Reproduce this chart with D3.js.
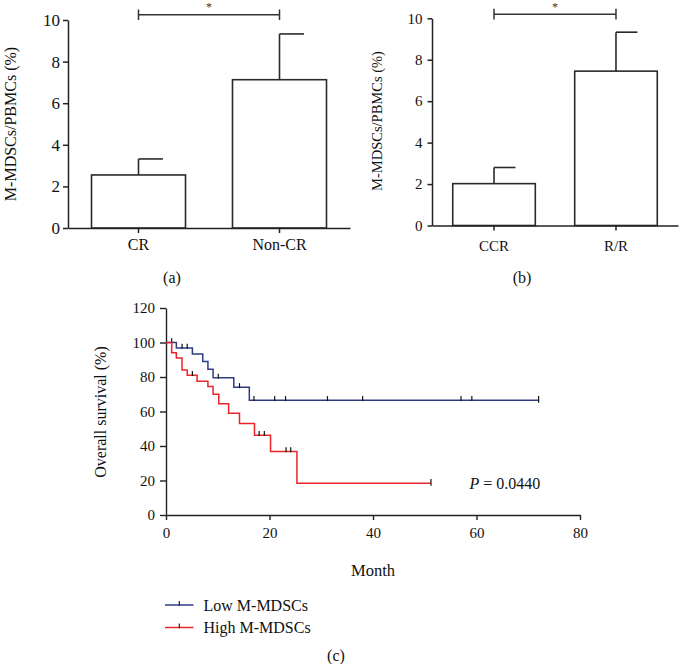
<!DOCTYPE html>
<html>
<head>
<meta charset="utf-8">
<script src="https://cdn.jsdelivr.net/npm/d3@7"></script>
<style>
  html, body { margin: 0; padding: 0; background: #fff; }
  svg { display: block; font-family: "Liberation Serif", "Times New Roman", serif; }
</style>
</head>
<body>
<svg id="chart" width="679" height="664"></svg>
<script>
// ---------- Data ----------
const catsA = ["CR", "Non-CR"];
const meanA = [2.55, 7.13];
const errA  = [0.77, 2.20];

const catsB = ["CCR", "R/R"];
const meanB = [2.02, 7.45];
const errB  = [0.78, 1.88];

const barTicks = [0, 2, 4, 6, 8, 10];

const lowTimes   = [0, 2.0, 5.1, 7.1, 8.1, 9.1, 13.1, 16.1];
const lowSurv    = [100, 96.8, 93.3, 89, 84.5, 79.5, 74, 66.5];
const lowCensor  = [1.1, 3.1, 4.1, 10.1, 14.2, 17.0, 21.0, 23.1, 31.2, 38.0, 57.0, 59.1];
const lowEnd     = 72;

const highTimes  = [0, 1.1, 2.0, 3.1, 4.1, 6.0, 8.1, 9.1, 10.2, 12.1, 14.2, 17.1, 20.2, 25.3];
const highSurv   = [100, 94, 91, 84, 81, 77.5, 74.5, 70, 64.5, 59, 53, 46.3, 36.8, 18.4];
const highCensor = [5.1, 18.0, 19.0, 23.2, 24.1];
const highEnd    = 51.2;

const kmXTicks = [0, 20, 40, 60, 80];
const kmYTicks = [0, 20, 40, 60, 80, 100, 120];
const legendLabels = ["Low M-MDSCs", "High M-MDSCs"];
const pText = "0.0440";

// ---------- Drawing ----------
const svg = d3.select("#chart");
const axisColor = "#222";

function styleAxis(g, fontSize, width) {
  g.selectAll("path.domain").attr("stroke", axisColor).attr("stroke-width", width);
  g.selectAll(".tick line").attr("stroke", axisColor).attr("stroke-width", width);
  g.selectAll(".tick text").attr("fill", "#111").attr("font-size", fontSize)
    .attr("font-family", "Liberation Serif, serif");
}

function barPanel(opt) {
  const x = d3.scaleBand().domain(opt.cats).range(opt.xRange)
    .paddingInner(opt.pi).paddingOuter(opt.po);
  const y = d3.scaleLinear().domain([0, 10]).range(opt.yRange);
  const g = svg.append("g");

  // bars
  g.selectAll("rect.bar").data(opt.cats).join("rect")
    .attr("x", d => x(d)).attr("width", x.bandwidth())
    .attr("y", (d, i) => y(opt.mean[i]))
    .attr("height", (d, i) => y(0) - y(opt.mean[i]))
    .attr("fill", "#fff").attr("stroke", "#2a2a2a").attr("stroke-width", 1.6);

  // error bars (upper only, right half cap)
  const cap = x.bandwidth() * 0.26;
  opt.cats.forEach((c, i) => {
    const cx = x(c) + x.bandwidth() / 2;
    const top = y(opt.mean[i] + opt.err[i]);
    g.append("line").attr("x1", cx).attr("x2", cx)
      .attr("y1", y(opt.mean[i])).attr("y2", top)
      .attr("stroke", "#2a2a2a").attr("stroke-width", 1.6);
    g.append("line").attr("x1", cx).attr("x2", cx + cap)
      .attr("y1", top).attr("y2", top)
      .attr("stroke", "#2a2a2a").attr("stroke-width", 1.6);
  });

  // axes
  const gy = g.append("g").attr("transform", `translate(${opt.xRange[0]},0)`)
    .call(d3.axisLeft(y).tickValues(barTicks).tickSize(opt.yTick).tickPadding(opt.yPad).tickSizeOuter(0));
  styleAxis(gy, opt.tickFont, 1.5);
  const gx = g.append("g").attr("transform", `translate(0,${y(0)})`)
    .call(d3.axisBottom(x).tickSize(5).tickPadding(opt.xPad).tickSizeOuter(0));
  styleAxis(gx, opt.catFont, 1.5);

  // significance bracket
  const x1 = x(opt.cats[0]) + x.bandwidth() / 2;
  const x2 = x(opt.cats[1]) + x.bandwidth() / 2;
  const by = y(opt.bracket);
  g.append("path")
    .attr("d", `M${x1},${by - 5.3}V${by + 5.3}M${x1},${by}H${x2}M${x2},${by - 5.3}V${by + 5.3}`)
    .attr("fill", "none").attr("stroke", "#333").attr("stroke-width", 1.5);
  g.append("text").attr("x", (x1 + x2) / 2).attr("y", by - 3.5)
    .attr("text-anchor", "middle").attr("font-size", 12).attr("fill", "#333").text("*");

  // y title
  g.append("text")
    .attr("transform", `translate(${opt.titleX},${opt.titleY}) rotate(-90)`)
    .attr("text-anchor", "middle").attr("dominant-baseline", "central")
    .attr("font-size", opt.titleFont).attr("fill", "#111")
    .text("M-MDSCs/PBMCs (%)");

  // panel label
  g.append("text").attr("x", opt.labelX).attr("y", 283)
    .attr("text-anchor", "middle").attr("font-size", 16).attr("fill", "#111")
    .text(opt.label);
}

barPanel({
  cats: catsA, mean: meanA, err: errA,
  xRange: [68, 350], pi: 1 / 3, po: 1 / 6, yRange: [228, 20],
  yTick: 5, yPad: 3, xPad: 6, tickFont: 17, catFont: 16,
  bracket: 10.25, titleX: 10, titleY: 124, titleFont: 16,
  label: "(a)", labelX: 172
});

barPanel({
  cats: catsB, mean: meanB, err: errB,
  xRange: [432, 678], pi: 0.323, po: 0.17, yRange: [225.5, 18.3],
  yTick: 4.5, yPad: 5, xPad: 9.5, tickFont: 15, catFont: 15,
  bracket: 10.2, titleX: 377, titleY: 121, titleFont: 14.5,
  label: "(b)", labelX: 522
});

// ---------- Kaplan-Meier panel ----------
const kx = d3.scaleLinear().domain([0, 80]).range([166, 580]);
const ky = d3.scaleLinear().domain([0, 120]).range([515, 308]);
const kg = svg.append("g");

const gky = kg.append("g").attr("transform", `translate(${kx(0)},0)`)
  .call(d3.axisLeft(ky).tickValues(kmYTicks).tickSize(6).tickPadding(5).tickSizeOuter(0));
styleAxis(gky, 15, 1.4);
const gkx = kg.append("g").attr("transform", `translate(0,${ky(0)})`)
  .call(d3.axisBottom(kx).tickValues(kmXTicks).tickSize(5).tickPadding(7.3).tickSizeOuter(0));
styleAxis(gkx, 15, 1.4);

function survAt(times, surv, t) {
  let s = surv[0];
  for (let i = 0; i < times.length; i++) if (times[i] <= t) s = surv[i];
  return s;
}

function drawKM(times, surv, censor, end, color) {
  const pts = times.map((t, i) => [t, surv[i]]);
  pts.push([end, surv[surv.length - 1]]);
  const line = d3.line().x(d => kx(d[0])).y(d => ky(d[1])).curve(d3.curveStepAfter);
  kg.append("path").datum(pts).attr("d", line)
    .attr("fill", "none").attr("stroke", color).attr("stroke-width", 1.5);
  const cens = censor.concat([end]);
  kg.selectAll(null).data(cens).join("line")
    .attr("x1", d => kx(d)).attr("x2", d => kx(d))
    .attr("y1", d => ky(survAt(times, surv, d)) - 4.2)
    .attr("y2", d => ky(survAt(times, surv, d)) + (d === end ? 2.5 : 0.8))
    .attr("stroke", "#111").attr("stroke-width", 1.2);
}

const blue = "#2f3c84";
const red = "#e8262a";
drawKM(lowTimes, lowSurv, lowCensor, lowEnd, blue);
drawKM(highTimes, highSurv, highCensor, highEnd, red);

// y title
kg.append("text")
  .attr("transform", `translate(100,412) rotate(-90)`)
  .attr("text-anchor", "middle").attr("dominant-baseline", "central")
  .attr("font-size", 16).attr("fill", "#111").text("Overall survival (%)");

// x title
kg.append("text").attr("x", 373).attr("y", 576)
  .attr("text-anchor", "middle").attr("font-size", 16.5).attr("fill", "#111").text("Month");

// p value
const pt = kg.append("text").attr("x", 469.5).attr("y", 489)
  .attr("font-size", 16).attr("fill", "#111");
pt.append("tspan").attr("font-style", "italic").text("P");
pt.append("tspan").text(" = " + pText);

// legend
const legColors = [blue, red];
const legY = [605, 627.5];
legendLabels.forEach((lab, i) => {
  kg.append("line").attr("x1", 165).attr("x2", 193.5)
    .attr("y1", legY[i]).attr("y2", legY[i])
    .attr("stroke", legColors[i]).attr("stroke-width", 1.5);
  kg.append("line").attr("x1", 179.3).attr("x2", 179.3)
    .attr("y1", legY[i] - 4).attr("y2", legY[i] + 0.8)
    .attr("stroke", "#111").attr("stroke-width", 1.1);
  kg.append("text").attr("x", 203.5).attr("y", legY[i] + 5.5)
    .attr("font-size", 16).attr("fill", "#111").text(lab);
});

// panel label (c)
kg.append("text").attr("x", 336).attr("y", 661)
  .attr("text-anchor", "middle").attr("font-size", 16).attr("fill", "#111").text("(c)");
</script>
</body>
</html>
